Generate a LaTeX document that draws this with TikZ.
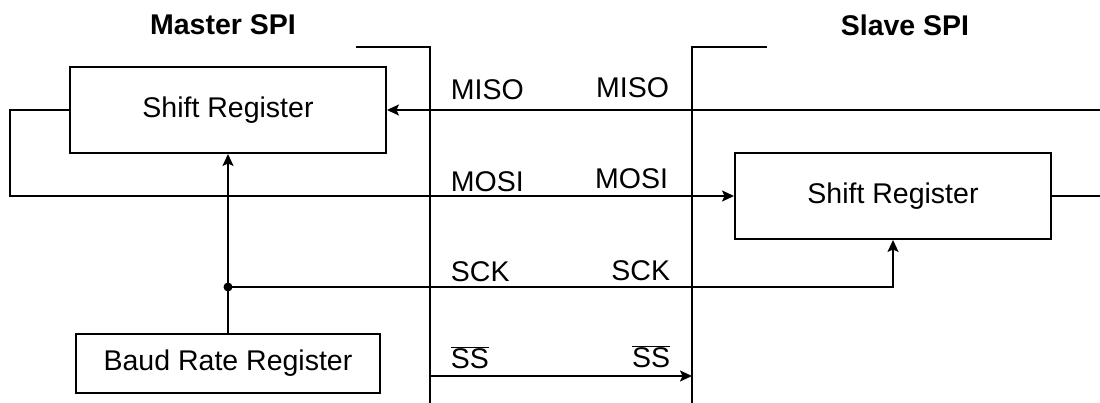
\documentclass[tikz,border=0pt]{standalone}
\usepackage{fontspec}
\setmainfont{Liberation Sans}
\usetikzlibrary{arrows.meta}
\begin{document}
\begin{tikzpicture}[x=1pt,y=-1pt,
  line width=1.9pt,
  font=\fontsize{28.5}{34}\selectfont,
  reg/.style={draw, rectangle, inner sep=0pt},
  lbl/.style={inner sep=0pt},
  title/.style={inner sep=0pt, font=\fontsize{28.5}{34}\selectfont\bfseries},
  arr/.style={-{Stealth[length=12pt,width=11pt,inset=2.5pt]}}
]
\useasboundingbox (0,0) rectangle (1100,403);
% titles
\node[title] (tm) at (223,25) {Master SPI};
\node[title] (ts) at (905,25) {Slave SPI};
% boundaries
\coordinate (mb1) at (356,47);
\coordinate (mb2) at (430,47);
\coordinate (mb3) at (430,403);
\coordinate (sb1) at (767,47);
\coordinate (sb2) at (692,47);
\coordinate (sb3) at (692,403);
\draw (mb1) -- (mb2) -- (mb3);
\draw (sb1) -- (sb2) -- (sb3);
% registers
\node[reg, minimum width=316pt, minimum height=86pt] (msr) at (228,110) {Shift Register};
\node[reg, minimum width=316pt, minimum height=86pt] (ssr) at (893,196) {Shift Register};
\node[reg, minimum width=304pt, minimum height=59pt] (baud) at (228,363.5) {Baud Rate Register};
% MISO
\coordinate (misoR) at (1100,110);
\draw[arr] (misoR) -- (msr.east);
% MOSI
\coordinate (mosiL) at (10,110);
\draw[arr] (msr.west) -- (mosiL) |- (ssr.west);
\coordinate (ssrR) at (1100,196);
\draw (ssr.east) -- (ssrR);
% SCK
\coordinate (dot) at (228,287);
\draw[arr] (baud.north) -- (msr.south);
\fill (dot) circle (4.5pt);
\draw[arr] (dot) -| (ssr.south);
% SS
\coordinate (ssA) at (430,376);
\coordinate (ssB) at (692,376);
\draw[arr] (ssA) -- (ssB);
% labels
\node[lbl, anchor=base west] (l1) at (450,100) {MISO};
\node[lbl, anchor=base east] (l2) at (670,98) {MISO};
\node[lbl, anchor=base west] (l3) at (450,192) {MOSI};
\node[lbl, anchor=base east] (l4) at (669,189) {MOSI};
\node[lbl, anchor=base west] (l5) at (450,282) {SCK};
\node[lbl, anchor=base east] (l6) at (671,280) {SCK};
\node[lbl, anchor=base west] (l7) at (450,368) {$\overline{\hbox{SS}}$};
\node[lbl, anchor=base east] (l8) at (671,367) {$\overline{\hbox{SS}}$};
\end{tikzpicture}
\end{document}
